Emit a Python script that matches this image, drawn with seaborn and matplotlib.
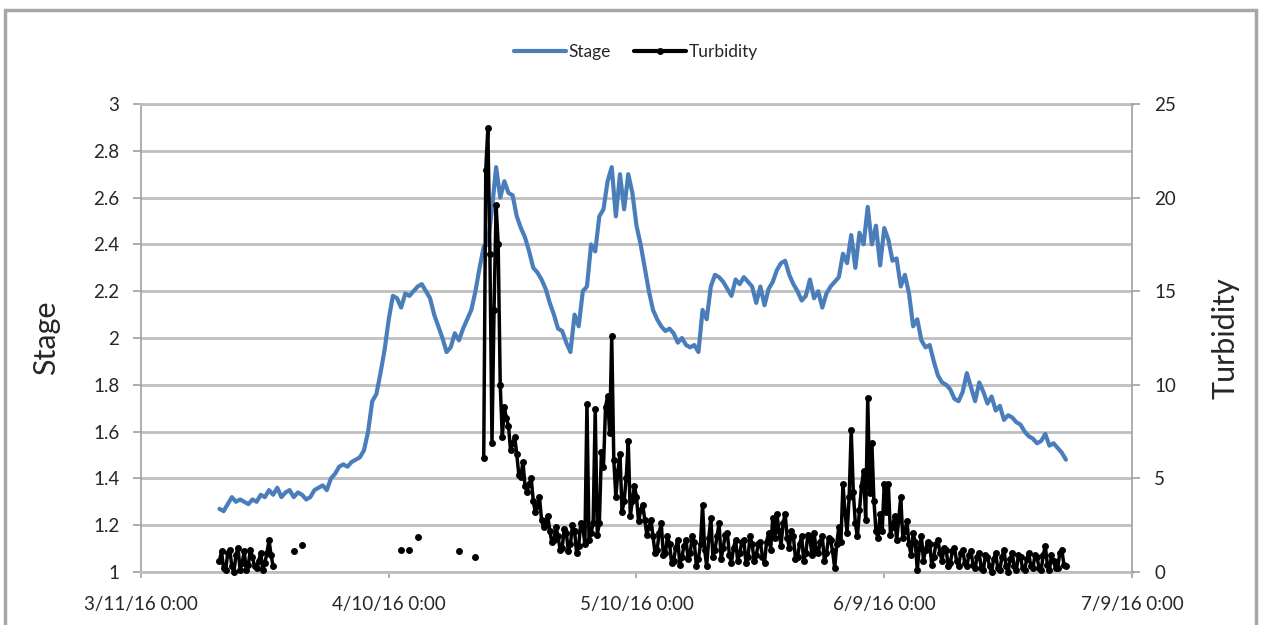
import numpy as np
import pandas as pd
import matplotlib
matplotlib.use("Agg")
import matplotlib.pyplot as plt
from matplotlib.lines import Line2D
from matplotlib.patches import Rectangle
import seaborn as sns

# ---------------- data ----------------
start_time = "2016-03-20 12:00"
time_step = "12h"      # main readings
mid_offset = "6h"      # extra turbidity readings between the main ones

stage = [
    1.27, 1.26, 1.29, 1.32, 1.30, 1.31, 1.30, 1.29, 1.31, 1.30,
    1.33, 1.32, 1.35, 1.33, 1.36, 1.32, 1.34, 1.35, 1.32, 1.34,
    1.33, 1.31, 1.32, 1.35, 1.36, 1.37, 1.35, 1.40, 1.42, 1.45,
    1.46, 1.45, 1.47, 1.48, 1.49, 1.52, 1.60, 1.73, 1.76, 1.85,
    1.95, 2.08, 2.18, 2.17, 2.13, 2.19, 2.18, 2.20, 2.22, 2.23,
    2.20, 2.17, 2.10, 2.05, 2.00, 1.94, 1.96, 2.02, 1.99, 2.04,
    2.08, 2.12, 2.20, 2.30, 2.39, 2.40, 2.55, 2.73, 2.60, 2.67,
    2.62, 2.61, 2.52, 2.47, 2.43, 2.37, 2.30, 2.28, 2.25, 2.21,
    2.15, 2.10, 2.04, 2.03, 1.98, 1.94, 2.10, 2.05, 2.20, 2.22,
    2.40, 2.37, 2.52, 2.55, 2.67, 2.73, 2.52, 2.70, 2.55, 2.70,
    2.62, 2.48, 2.40, 2.30, 2.20, 2.12, 2.08, 2.05, 2.03, 2.04,
    2.02, 1.98, 2.00, 1.97, 1.96, 1.97, 1.94, 2.12, 2.08, 2.22,
    2.27, 2.26, 2.24, 2.21, 2.18, 2.25, 2.23, 2.26, 2.24, 2.22,
    2.15, 2.22, 2.14, 2.21, 2.24, 2.29, 2.32, 2.33, 2.27, 2.23,
    2.20, 2.16, 2.18, 2.25, 2.17, 2.20, 2.13, 2.19, 2.22, 2.24,
    2.26, 2.36, 2.32, 2.44, 2.30, 2.45, 2.40, 2.56, 2.40, 2.48,
    2.31, 2.47, 2.42, 2.33, 2.34, 2.22, 2.27, 2.19, 2.05, 2.08,
    1.99, 1.96, 1.97, 1.90, 1.84, 1.81, 1.80, 1.78, 1.74, 1.73,
    1.77, 1.85, 1.79, 1.73, 1.81, 1.77, 1.72, 1.75, 1.69, 1.71,
    1.65, 1.67, 1.66, 1.64, 1.63, 1.60, 1.58, 1.57, 1.55, 1.56,
    1.59, 1.54, 1.55, 1.53, 1.51, 1.48,
]

nan = float("nan")
turbidity = [
    0.6, 0.2, 1.0, 0.3, 0.9, 0.1, 1.1, 0.4, 0.8, 0.2,
    1.0, 0.5, 1.7, 0.3, nan, nan, nan, nan, 1.1, nan,
    1.45, nan, nan, nan, nan, nan, nan, nan, nan, nan,
    nan, nan, nan, nan, nan, nan, nan, nan, nan, nan,
    nan, nan, nan, nan, 1.2, nan, 1.2, nan, 1.85, nan,
    nan, nan, nan, nan, nan, nan, nan, nan, 1.1, nan,
    nan, nan, 0.8, nan, 6.1, 23.7, 6.9, 19.6, 10.0, 8.8,
    7.8, 6.9, 6.3, 5.1, 4.6, 4.7, 3.8, 3.5, 2.8, 2.6,
    2.2, 1.7, 1.9, 1.3, 2.1, 1.5, 2.2, 1.4, 2.4, 9.0,
    2.1, 8.7, 2.6, 5.6, 9.4, 12.6, 4.0, 6.3, 3.8, 7.0,
    3.8, 4.0, 3.3, 2.8, 2.4, 1.9, 1.2, 2.6, 1.0, 1.5,
    0.6, 1.7, 0.8, 1.7, 1.0, 1.6, 0.7, 3.6, 0.3, 2.9,
    1.2, 2.6, 1.3, 2.1, 0.5, 1.7, 1.0, 1.7, 0.8, 1.5,
    0.9, 1.6, 0.5, 2.1, 2.9, 3.1, 1.4, 3.1, 1.3, 1.9,
    0.8, 1.9, 1.0, 1.8, 2.1, 1.0, 1.9, 1.0, 1.7, 0.2,
    2.4, 4.7, 2.1, 7.6, 2.6, 3.3, 5.4, 9.3, 6.9, 2.2,
    3.1, 4.7, 4.7, 2.4, 1.7, 4.0, 2.2, 1.5, 2.1, 0.1,
    1.9, 1.2, 1.5, 0.8, 1.7, 0.6, 1.2, 0.5, 1.3, 0.3,
    1.2, 0.3, 1.1, 0.2, 1.0, 0.1, 0.8, 0.0, 1.0, 0.1,
    1.2, 0.0, 1.0, 0.1, 0.8, 0.1, 1.0, 0.2, 0.8, 0.1,
    1.4, 0.1, 0.6, 0.2, 1.2, 0.3,
]

# turbidity readings taken 6 h after each main reading
turbidity_mid = [
    1.1, 0.1, 1.2, 0.0, 1.3, 0.5, 0.1, 1.2, 0.3, 0.6,
    0.1, 1.0, 0.9, nan, nan, nan, nan, nan, nan, nan,
    nan, nan, nan, nan, nan, nan, nan, nan, nan, nan,
    nan, nan, nan, nan, nan, nan, nan, nan, nan, nan,
    nan, nan, nan, nan, nan, nan, nan, nan, nan, nan,
    nan, nan, nan, nan, nan, nan, nan, nan, nan, nan,
    nan, nan, nan, nan, 21.5, 17.0, 14.0, 17.5, 7.2, 8.2,
    6.5, 7.2, 5.2, 5.9, 4.3, 5.0, 3.2, 4.0, 2.4, 3.0,
    1.6, 2.4, 1.2, 2.3, 1.1, 2.5, 1.0, 2.6, 1.5, 1.7,
    2.6, 2.0, 6.4, 8.8, 7.4, 6.0, 5.4, 3.2, 5.0, 3.0,
    4.6, 2.7, 3.6, 2.0, 2.8, 1.0, 2.1, 0.9, 1.9, 0.5,
    1.3, 0.4, 1.4, 0.7, 1.9, 0.3, 1.5, 1.2, 1.8, 0.8,
    1.9, 0.7, 2.0, 0.9, 1.3, 0.6, 1.6, 0.5, 1.9, 0.6,
    1.5, 0.8, 1.6, 1.2, 1.8, 2.2, 2.6, 1.8, 2.2, 0.7,
    1.5, 0.6, 2.0, 0.9, 1.2, 1.6, 0.6, 1.8, 1.1, 1.5,
    1.6, 3.2, 4.0, 4.3, 1.9, 4.6, 2.8, 4.2, 3.8, 1.8,
    2.2, 3.2, 2.0, 3.0, 2.8, 1.8, 2.7, 0.9, 1.6, 1.3,
    0.6, 1.6, 0.4, 1.5, 1.0, 1.3, 0.3, 1.1, 0.6, 1.0,
    0.5, 0.9, 0.4, 0.8, 0.2, 0.9, 0.3, 0.7, 0.2, 0.8,
    0.3, 0.7, 0.3, 0.9, 0.2, 0.7, 0.3, 0.9, 0.2, 0.9,
    0.4, 0.9, 0.2, 1.0, 0.4, nan,
]

xtick_dates = ["2016-03-11", "2016-04-10", "2016-05-10", "2016-06-09", "2016-07-09"]
xtick_labels = ["3/11/16 0:00", "4/10/16 0:00", "5/10/16 0:00", "6/9/16 0:00", "7/9/16 0:00"]
stage_ticks = [1.0, 1.2, 1.4, 1.6, 1.8, 2.0, 2.2, 2.4, 2.6, 2.8, 3.0]
stage_tick_labels = ["1", "1.2", "1.4", "1.6", "1.8", "2", "2.2", "2.4", "2.6", "2.8", "3"]
turb_ticks = [0, 5, 10, 15, 20, 25]
turb_tick_labels = ["0", "5", "10", "15", "20", "25"]

# ---------------- styling ----------------
sns.set_style("white")
plt.rcParams["font.family"] = ["Lato", "DejaVu Sans"]

STAGE_COLOR = "#4a7ebb"
GRID = "#bfbfbf"
AXIS = "#a0a0a0"
TEXT = "#262626"

times = pd.date_range(start_time, periods=len(stage), freq=time_step)
stage_df = pd.DataFrame({"time": times, "Stage": stage})

turb_df = pd.concat([
    pd.DataFrame({"time": times, "Turbidity": turbidity}),
    pd.DataFrame({"time": times + pd.Timedelta(mid_offset), "Turbidity": turbidity_mid}),
]).sort_values("time").reset_index(drop=True)
turb_df["seg"] = turb_df["Turbidity"].isna().cumsum()
turb_df = turb_df.dropna(subset=["Turbidity"])

W, H = 1261, 625
fig = plt.figure(figsize=(W / 100, H / 100), dpi=100)
ax = fig.add_axes([141 / W, (H - 572) / H, 991 / W, 468 / H])
ax2 = ax.twinx()

sns.lineplot(data=stage_df, x="time", y="Stage", ax=ax, color=STAGE_COLOR,
             linewidth=3.0, clip_on=False)
sns.lineplot(data=turb_df, x="time", y="Turbidity", units="seg", estimator=None,
             ax=ax2, color="black", linewidth=2.5, marker="o", markersize=5.0,
             markeredgewidth=0, clip_on=False)

ax.set_xlim(pd.Timestamp(xtick_dates[0]), pd.Timestamp(xtick_dates[-1]))
ax.set_ylim(stage_ticks[0], stage_ticks[-1])
ax2.set_ylim(turb_ticks[0], turb_ticks[-1])

ax.set_xticks(pd.to_datetime(xtick_dates))
ax.set_xticklabels(xtick_labels)
ax.set_yticks(stage_ticks)
ax.set_yticklabels(stage_tick_labels)
ax2.set_yticks(turb_ticks)
ax2.set_yticklabels(turb_tick_labels)

ax.yaxis.grid(True, color=GRID, linewidth=2.0)
ax.xaxis.grid(False)
ax.set_axisbelow(True)

ax.set_xlabel("")
ax.set_ylabel("Stage", fontsize=22, color=TEXT)
ax2.set_ylabel("Turbidity", fontsize=22, color=TEXT)
ax.yaxis.set_label_coords(-(141 - 60) / 991, 0.5)
ax2.yaxis.set_label_coords((1212 - 141) / 991, 0.5)

ax.tick_params(axis="y", which="major", left=True, length=5.5, width=1.2,
               color=AXIS, labelsize=13.5, labelcolor=TEXT, pad=10)
ax.tick_params(axis="x", which="major", bottom=True, length=4.5, width=1.2,
               color=AXIS, labelsize=13.5, labelcolor=TEXT, pad=13)
ax2.tick_params(axis="y", which="major", right=True, length=6, width=1.2,
                color=AXIS, labelsize=13.5, labelcolor=TEXT, pad=10)

for name, sp in ax.spines.items():
    sp.set_visible(name in ("left", "bottom", "top"))
ax.spines["left"].set_color(AXIS)
ax.spines["left"].set_linewidth(1.2)
ax.spines["bottom"].set_color(GRID)
ax.spines["bottom"].set_linewidth(2.0)
ax.spines["top"].set_color(GRID)
ax.spines["top"].set_linewidth(2.0)
for name, sp in ax2.spines.items():
    sp.set_visible(name == "right")
ax2.spines["right"].set_color(AXIS)
ax2.spines["right"].set_linewidth(1.2)

handles = [
    Line2D([], [], color=STAGE_COLOR, linewidth=3.0),
    Line2D([], [], color="black", linewidth=3.0, marker="o", markersize=5.0,
           markeredgewidth=0),
]
fig.legend(handles, ["Stage", "Turbidity"], loc="center",
           bbox_to_anchor=(636 / W, 1 - 52 / H), ncol=2, frameon=False,
           fontsize=12.5, handlelength=3.0, handletextpad=0.15,
           columnspacing=1.3, labelcolor=TEXT)

fig.add_artist(Rectangle((5 / W, -0.05), (1256 - 5) / W, 1 - 10 / H + 0.05,
                         transform=fig.transFigure, fill=False,
                         edgecolor="#a6a6a6", linewidth=2.5))

fig.savefig("out.png", dpi=100, facecolor="white")
